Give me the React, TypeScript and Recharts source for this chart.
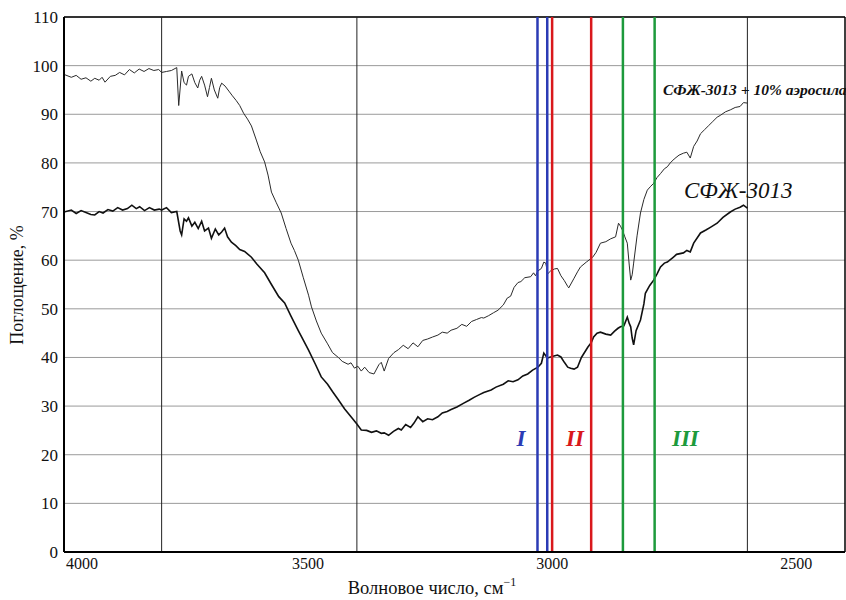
import React from 'react';
import { LineChart, Line, XAxis, YAxis, CartesianGrid, ReferenceLine, ReferenceDot, Label } from 'recharts';

// IR spectrum readings: [wavenumber, absorbance %]
const aerosilWn = [4000, 3985, 3975, 3965, 3955, 3945, 3937, 3928, 3922, 3916, 3905, 3895, 3886, 3876, 3866, 3856, 3846, 3836, 3826, 3816, 3806, 3800, 3790, 3780, 3769, 3765, 3759, 3754, 3749, 3745, 3738, 3732, 3726, 3722, 3718, 3712, 3706, 3702, 3698, 3692, 3685, 3681, 3677, 3670, 3661, 3655, 3647, 3640, 3632, 3624, 3616, 3606, 3598, 3589, 3582, 3575, 3565, 3555, 3545, 3535, 3528, 3520, 3510, 3499, 3493, 3483, 3473, 3460, 3450, 3438, 3430, 3418, 3412, 3405, 3398, 3391, 3384, 3375, 3365, 3355, 3350, 3344, 3335, 3324, 3315, 3305, 3295, 3285, 3275, 3265, 3255, 3245, 3234, 3225, 3215, 3207, 3195, 3185, 3175, 3165, 3155, 3145, 3140, 3130, 3120, 3111, 3100, 3092, 3085, 3078, 3070, 3064, 3056, 3044, 3038, 3034, 3029, 3022, 3017, 3013, 3009, 3003, 2995, 2989, 2982, 2975, 2968, 2966, 2955, 2948, 2942, 2930, 2917, 2910, 2901, 2890, 2880, 2870, 2864, 2860, 2856, 2851, 2846, 2842, 2839, 2836, 2833, 2826, 2819, 2812, 2805, 2798, 2792, 2785, 2778, 2770, 2764, 2758, 2750, 2740, 2731, 2724, 2717, 2710, 2703, 2696, 2688, 2680, 2672, 2662, 2655, 2645, 2635, 2625, 2615, 2608, 2600];
const aerosilVal = [98.2, 97.6, 98.0, 97.2, 97.5, 96.8, 97.4, 97.0, 97.6, 96.6, 97.8, 98.0, 98.6, 98.1, 99.2, 98.5, 99.3, 98.8, 99.4, 99.0, 99.2, 98.6, 98.8, 99.0, 99.6, 91.8, 98.9, 96.5, 96.0, 97.8, 98.3, 96.5, 95.4, 97.0, 97.8, 96.0, 93.6, 95.5, 97.4, 95.0, 93.3, 95.5, 96.4, 95.8, 94.6, 93.8, 92.8, 91.8, 90.2, 89.0, 87.6, 84.7, 82.3, 80.2, 77.5, 74.0, 71.8, 69.7, 66.5, 63.5, 62.0, 60.0, 56.5, 52.8, 50.4, 47.5, 45.0, 42.8, 41.0, 40.0, 39.2, 38.6, 38.9, 37.8, 38.2, 37.2, 38.0, 36.9, 36.6, 38.5, 39.0, 37.2, 39.8, 41.0, 41.6, 42.5, 41.8, 43.0, 42.2, 43.5, 43.8, 44.2, 44.6, 45.2, 45.0, 45.6, 46.0, 46.8, 46.4, 47.4, 47.8, 48.2, 48.1, 48.6, 49.2, 49.7, 50.8, 52.2, 52.6, 54.4, 55.4, 55.6, 56.4, 56.6, 57.4, 56.8, 57.8, 58.3, 59.6, 59.4, 57.2, 57.8, 58.2, 58.3, 56.8, 55.8, 54.6, 54.3, 56.3, 57.6, 58.6, 59.6, 60.6, 61.6, 63.5, 63.8, 64.4, 64.8, 67.6, 67.0, 66.2, 64.8, 63.5, 59.0, 55.9, 57.0, 59.4, 65.0, 69.7, 72.5, 74.4, 75.2, 75.8, 77.0, 77.8, 78.8, 79.2, 80.0, 80.8, 81.6, 82.0, 82.2, 81.0, 83.4, 84.5, 86.0, 86.8, 87.6, 88.4, 89.4, 89.8, 90.5, 90.9, 91.4, 91.6, 92.4, 92.3];

const baseWn = [4000, 3985, 3975, 3965, 3955, 3945, 3937, 3928, 3920, 3910, 3900, 3890, 3880, 3870, 3861, 3852, 3845, 3835, 3825, 3815, 3805, 3800, 3790, 3780, 3769, 3762, 3759, 3754, 3749, 3745, 3738, 3732, 3725, 3718, 3712, 3704, 3698, 3690, 3683, 3677, 3671, 3665, 3657, 3648, 3640, 3630, 3616, 3605, 3589, 3575, 3560, 3548, 3535, 3520, 3510, 3499, 3485, 3473, 3460, 3450, 3438, 3425, 3412, 3400, 3391, 3380, 3370, 3360, 3350, 3344, 3335, 3325, 3315, 3309, 3300, 3290, 3283, 3275, 3265, 3255, 3245, 3234, 3225, 3215, 3207, 3195, 3181, 3170, 3160, 3150, 3140, 3125, 3115, 3100, 3090, 3080, 3070, 3060, 3050, 3040, 3029, 3022, 3017, 3012, 3009, 3000, 2989, 2982, 2975, 2968, 2962, 2955, 2948, 2940, 2927, 2920, 2915, 2908, 2901, 2890, 2880, 2872, 2865, 2860, 2853, 2846, 2842, 2839, 2836, 2833, 2828, 2819, 2812, 2809, 2800, 2792, 2785, 2778, 2770, 2764, 2752, 2745, 2731, 2724, 2717, 2710, 2696, 2685, 2675, 2662, 2650, 2635, 2625, 2615, 2608, 2600];
const baseVal = [69.9, 70.3, 69.6, 70.2, 69.8, 69.4, 69.3, 70.0, 69.7, 70.4, 70.1, 70.8, 70.3, 70.6, 71.3, 70.6, 71.0, 70.2, 70.8, 70.3, 70.5, 70.3, 70.8, 69.8, 70.0, 66.0, 65.2, 68.5, 68.0, 68.7, 67.0, 67.8, 66.5, 68.0, 66.0, 66.6, 64.5, 66.4, 65.2, 65.8, 66.6, 64.8, 63.7, 63.0, 62.2, 61.8, 60.6, 59.2, 57.4, 55.0, 52.5, 51.2, 48.5, 45.5, 43.6, 41.5, 38.6, 36.0, 34.5, 33.0, 31.3, 29.4, 27.8, 26.3, 25.1, 25.0, 24.6, 24.9, 24.4, 24.5, 24.0, 24.8, 25.4, 25.1, 26.2, 25.6, 26.5, 27.8, 26.8, 27.4, 27.2, 27.8, 28.6, 28.9, 29.3, 29.8, 30.6, 31.2, 31.8, 32.3, 32.8, 33.3, 33.9, 34.5, 35.2, 35.0, 35.4, 36.2, 36.6, 37.4, 38.0, 38.8, 40.9, 40.2, 39.9, 40.2, 40.5, 40.1, 39.0, 38.0, 37.8, 37.6, 38.0, 40.0, 42.1, 43.0, 44.2, 45.0, 45.2, 44.8, 44.6, 45.4, 46.0, 46.3, 46.5, 48.3, 47.0, 46.3, 44.0, 42.6, 45.5, 47.7, 51.0, 53.2, 54.8, 55.9, 57.2, 58.6, 59.4, 59.6, 60.6, 61.2, 61.5, 62.0, 61.7, 63.5, 65.6, 66.2, 66.8, 67.6, 68.8, 69.9, 70.5, 70.9, 71.3, 70.7];

const xTicks = [4000, 3500, 3000, 2500];
const yTicks = [0, 10, 20, 30, 40, 50, 60, 70, 80, 90, 100, 110];
const gridWn = [3800, 3400, 2600];

// band boundaries (I, II, III)
const bandLines = [
  { wn: 3030, color: '#2b3bb5' },
  { wn: 3010, color: '#2b3bb5' },
  { wn: 3000, color: '#d9181c' },
  { wn: 2920, color: '#d9181c' },
  { wn: 2855, color: '#1d9a3c' },
  { wn: 2790, color: '#1d9a3c' },
];
const bandLabels = [
  { text: 'I', wn: 3064, color: '#2b3bb5' },
  { text: 'II', wn: 2953, color: '#d9181c' },
  { text: 'III', wn: 2727, color: '#1d9a3c' },
];

const aerosilData = aerosilWn.map((wn, i) => ({ wn, v: aerosilVal[i] }));
const baseData = baseWn.map((wn, i) => ({ wn, v: baseVal[i] }));

const FONT = '"Liberation Serif", "Times New Roman", serif';

const XTick = (props: any) => {
  const { x, y, payload } = props;
  const first = payload.value === 4000;
  return (
    <text x={first ? x + 2 : x} y={y + 17} textAnchor={first ? 'start' : 'middle'} fontSize={16} fontFamily={FONT} fill="#111">
      {payload.value}
    </text>
  );
};

export default function App() {
  return (
    <div style={{ width: 846, height: 600, background: '#fff' }}>
      <style>{'body{margin:0}'}</style>
      <LineChart width={846} height={600} margin={{ top: 17, right: 1, bottom: 0, left: 0 }}>
        <CartesianGrid vertical={false} stroke="#9a9a9a" strokeWidth={1} />
        <XAxis
          type="number"
          dataKey="wn"
          domain={[2400, 4000]}
          reversed
          ticks={xTicks}
          tick={<XTick />}
          tickSize={0}
          tickMargin={0}
          height={48}
          axisLine={{ stroke: '#000', strokeWidth: 2 }}
          allowDataOverflow
        >
          <Label
            content={() => (
              <text x={432} y={594} textAnchor="middle" fontSize={18.5} fontFamily={FONT} fill="#111">
                Волновое число, см
                <tspan dy={-8} fontSize={12}>−1</tspan>
              </text>
            )}
          />
        </XAxis>
        <YAxis
          type="number"
          domain={[0, 110]}
          ticks={yTicks}
          width={64}
          tickSize={0}
          tickMargin={6}
          tick={{ fontSize: 17, fontFamily: FONT, fill: '#111' }}
          axisLine={{ stroke: '#000', strokeWidth: 2 }}
        >
          <Label
            content={() => (
              <text x={23} y={285} textAnchor="middle" fontSize={18} fontFamily={FONT} fill="#111" transform="rotate(-90 23 285)">
                Поглощение, %
              </text>
            )}
          />
        </YAxis>
        <ReferenceLine y={110} stroke="#000" strokeWidth={1.5} />
        <ReferenceLine x={2400} stroke="#000" strokeWidth={1.5} />
        {gridWn.map((wn) => (
          <ReferenceLine key={wn} x={wn} stroke="#222" strokeWidth={1} />
        ))}
        <Line data={aerosilData} dataKey="v" stroke="#2a2a2a" strokeWidth={1} dot={false} isAnimationActive={false} />
        <Line data={baseData} dataKey="v" stroke="#111" strokeWidth={1.6} dot={false} isAnimationActive={false} />
        {bandLines.map((b) => (
          <ReferenceLine key={b.wn} x={b.wn} stroke={b.color} strokeWidth={2.5} />
        ))}
        {bandLabels.map((b) => (
          <ReferenceDot
            key={b.text}
            x={b.wn}
            y={23.4}
            r={0}
            label={{ value: b.text, position: 'center', fill: b.color, fontSize: 23, fontStyle: 'italic', fontWeight: 'bold', fontFamily: FONT }}
          />
        ))}
        <ReferenceDot
          x={2773}
          y={95}
          r={0}
          label={{ value: 'СФЖ-3013 + 10% аэросила', position: 'right', offset: 0, fill: '#111', fontSize: 15.5, fontStyle: 'italic', fontWeight: 'bold', fontFamily: FONT }}
        />
        <ReferenceDot
          x={2730}
          y={74.4}
          r={0}
          label={{ value: 'СФЖ-3013', position: 'right', offset: 0, fill: '#111', fontSize: 23, fontStyle: 'italic', fontFamily: FONT }}
        />
      </LineChart>
    </div>
  );
}
